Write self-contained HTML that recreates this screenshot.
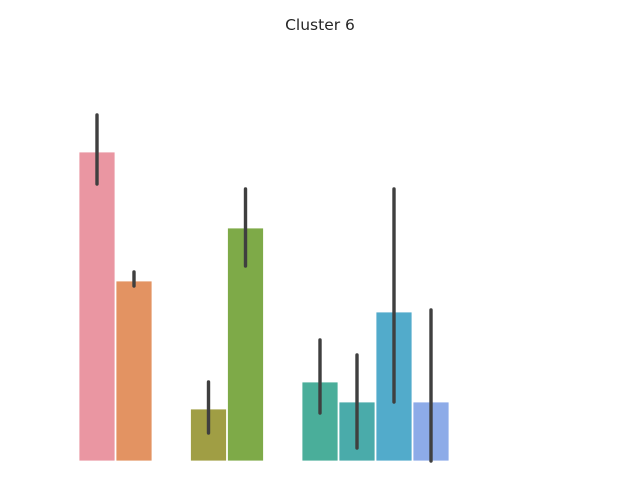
<!DOCTYPE html>
<html><head><meta charset="utf-8"><style>
body{margin:0;background:#fff;}
svg{display:block;font-family:"DejaVu Sans","Liberation Sans",sans-serif;}
</style></head><body>
<svg id="chart" width="640" height="480" viewBox="0 0 640 480">
<text x="320" y="30" text-anchor="middle" font-size="15.5" fill="#262626">Cluster 6</text>
<g id="bars"></g>
</svg>
<script>
const categories = ["a1","a2","b1","b2","c1","c2","c3","c4"];
const groups = [0,0,1,1,2,2,2,2];
const values = [309,180,52,233,79,59,149,59];
const errLow = [277,175,28,195,48,13,59,0];
const errHigh = [346,189,79,272,121,106,272,151];
const colors = ["#ea96a2","#e39362","#a09e44","#7eaa48","#4aae9a","#4aabaa","#52abcb","#8dabe8"];

const baseY = 461, pxPerUnit = 1;
function yScale(v){ return baseY - v * pxPerUnit; }
const barW = 37, groupStart = 79, groupGap = 111.5;
function xScale(i){
  const g = groups[i];
  const idx = groups.slice(0,i).filter(x=>x===g).length;
  return groupStart + g*groupGap + idx*barW;
}
const ns = "http://www.w3.org/2000/svg";
const gEl = document.getElementById('bars');
categories.forEach((c,i)=>{
  const x = xScale(i);
  const r = document.createElementNS(ns,'rect');
  
  
  r.setAttribute('x',x); r.setAttribute('width',barW-1);
  r.setAttribute('y',yScale(values[i])); r.setAttribute('height',baseY-yScale(values[i]));
  r.setAttribute('fill',colors[i]); r.setAttribute('stroke','#fff'); r.setAttribute('stroke-width','0.8');
  gEl.appendChild(r);
  const l = document.createElementNS(ns,'line');
  
  
  const cx = x + (barW-1)/2;
  l.setAttribute('x1',cx); l.setAttribute('x2',cx);
  l.setAttribute('y1',yScale(errLow[i])); l.setAttribute('y2',yScale(errHigh[i]));
  l.setAttribute('stroke','#3f3f3f'); l.setAttribute('stroke-width','3.4'); l.setAttribute('stroke-linecap','round');
  gEl.appendChild(l);
});
</script>
</body></html>
